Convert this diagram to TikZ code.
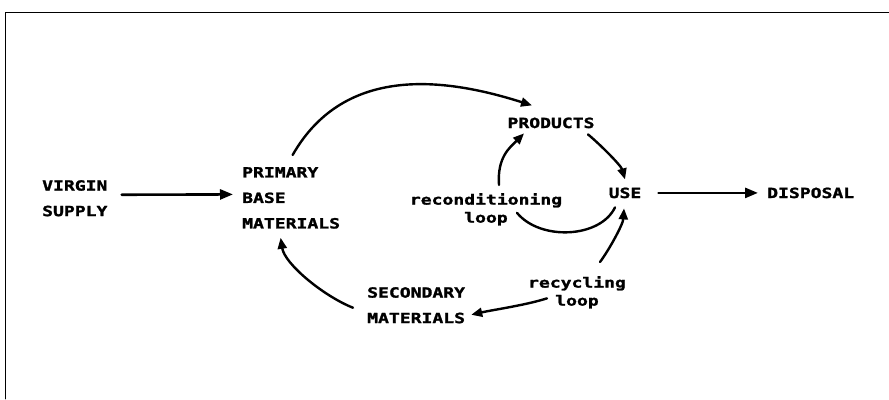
\documentclass[tikz,border=0pt]{standalone}
\usepackage{fontspec}
\newfontfamily\plotfont[FakeStretch=1.29,FakeBold=1.6]{DejaVu Sans Mono}
\usetikzlibrary{arrows.meta}

\begin{document}
\begin{tikzpicture}[
    x=1pt, y=-1pt,
    line cap=round,
    line join=round,
    every node/.style={inner sep=0pt},
    font=\plotfont\bfseries\fontsize{14}{25.5}\selectfont,
    caps/.style={align=left},
    note/.style={align=center, font=\plotfont\bfseries\fontsize{14}{18}\selectfont},
    flow/.style={line width=2.6pt, -{Triangle[length=13pt,width=10pt]}},
    loopflow/.style={line width=2.4pt, -{Triangle[length=11pt,width=9pt]}},
    loopline/.style={line width=2.4pt}
]

% --- Page and frame ---
\useasboundingbox (0,0) rectangle (889,399);
\draw[line width=0.9pt] (5,399) -- (5,12) -- (889,12);

% --- Stages ---
\node[caps, anchor=north west] (virgin) at (42,180) {VIRGIN\\SUPPLY};
\node[caps, anchor=north west] (primary) at (242,167) {PRIMARY\\BASE\\MATERIALS};
\node[anchor=base] (products) at (551,128) {PRODUCTS};
\node[anchor=base] (use) at (625,198) {USE};
\node[anchor=base west] (disposal) at (767,198) {DISPOSAL};
\node[caps, anchor=north west] (secondary) at (367,287) {SECONDARY\\MATERIALS};

% --- Loop labels ---
\node[note, anchor=north] (recond) at (486,193) {reconditioning\\loop};
\node[note, anchor=north] (recycl) at (577,276) {recycling\\loop};

% --- Straight flows ---
\draw[flow] ([shift={(14,-3.5)}]virgin.east) -- ([shift={(-9,-3.5)}]primary.west);
\draw[flow] ([shift={(17,0)}]use.east) -- ([shift={(-9,0)}]disposal.west);

% --- Main cycle ---
\draw[loopflow] ([shift={(1.5,-12)}]primary.north)
    .. controls +(53,-93) and +(-82,-26) .. ([shift={(-19,-12)}]products.north);
\draw[loopflow] ([shift={(37,6)}]products.south)
    .. controls +(12,10) and +(-4,-14) .. ([shift={(0,-8)}]use.north);

% --- Reconditioning loop ---
\draw[loopline] ([shift={(-10,9)}]use.south)
    .. controls +(-15,31) and +(23,28) .. ([shift={(31,3.5)}]recond.center);
\draw[loopflow] ([shift={(13,-8)}]recond.north)
    .. controls +(-2,-28) and +(-14,14) .. ([shift={(-27,5)}]products.south);

% --- Recycling loop ---
\draw[loopflow] ([shift={(23,-14)}]recycl.north)
    .. controls +(9,-12) and +(-1,16) .. ([shift={(-1,10)}]use.south);
\draw[loopflow] ([shift={(-30,6)}]recycl.center)
    .. controls +(-22,7) and +(22,-5) .. ([shift={(6,9.5)}]secondary.east);
\draw[loopflow] ([shift={(-14,2.5)}]secondary.west)
    .. controls +(-30,-12) and +(4,26) .. ([shift={(-10.5,9)}]primary.south);

\end{tikzpicture}
\end{document}
